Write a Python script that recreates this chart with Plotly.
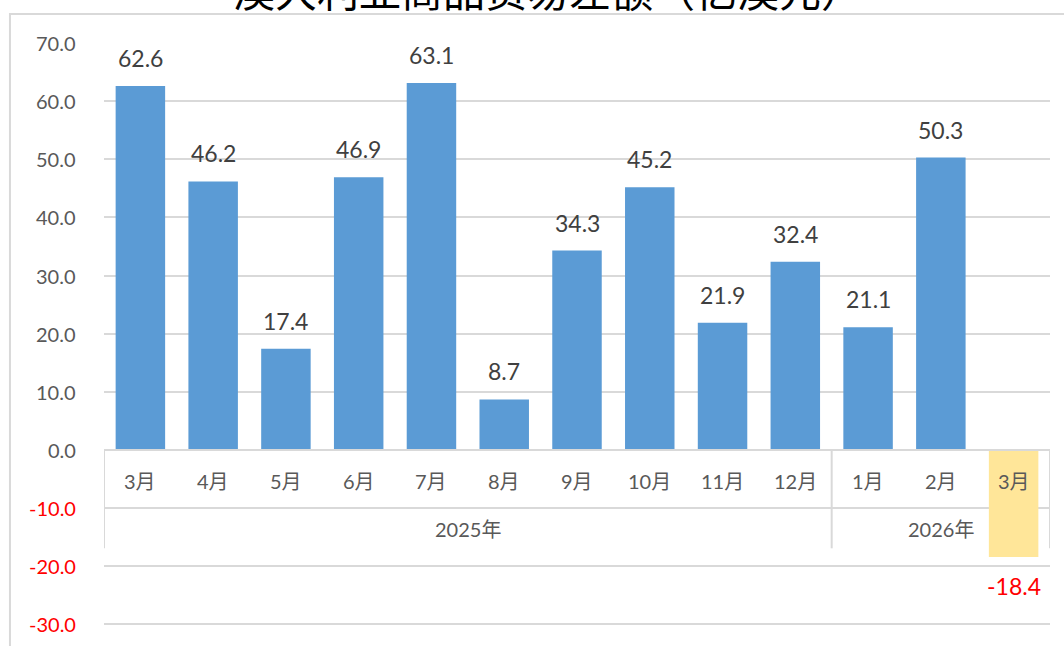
import plotly.graph_objects as go

months = ["3月", "4月", "5月", "6月", "7月", "8月", "9月", "10月", "11月", "12月", "1月", "2月", "3月"]
years = ["2025年", "2026年"]
year_counts = [10, 3]
values = [62.6, 46.2, 17.4, 46.9, 63.1, 8.7, 34.3, 45.2, 21.9, 32.4, 21.1, 50.3, -18.4]
y_ticks = [70, 60, 50, 40, 30, 20, 10, 0, -10, -20, -30]
title_text = "澳大利亚商品贸易差额（亿澳元）"

BLUE = "#5B9BD5"
YELLOW = "#FFE699"
GRID = "#D9D9D9"
FONT = "Lato, 'Noto Sans CJK SC', sans-serif"

xs = list(range(len(values)))
colors = [BLUE if v >= 0 else YELLOW for v in values]

fig = go.Figure()
fig.add_trace(go.Bar(x=xs, y=values, marker=dict(color=colors, line=dict(width=0)),
                     width=0.68, hoverinfo="skip"))

annotations = []
# data labels
for x, v in zip(xs, values):
    if v >= 0:
        annotations.append(dict(x=x, y=v, xref="x", yref="y", text=f"{v:.1f}", showarrow=False,
                                yanchor="bottom", yshift=12,
                                font=dict(family=FONT, size=23, color="#404040")))
    else:
        annotations.append(dict(x=x, y=v, xref="x", yref="y", text=f"{v:.1f}", showarrow=False,
                                yanchor="top", yshift=-13,
                                font=dict(family=FONT, size=23, color="#FF0000")))
# month labels
for x, m in zip(xs, months):
    annotations.append(dict(x=x, y=-5.4, xref="x", yref="y", text=m, showarrow=False,
                            font=dict(family=FONT, size=20, color="#595959")))
# year labels
start = 0
bounds = [-0.5]
for yname, cnt in zip(years, year_counts):
    center = start + (cnt - 1) / 2
    annotations.append(dict(x=center, y=-13.6, xref="x", yref="y", text=yname, showarrow=False,
                            font=dict(family=FONT, size=20, color="#595959")))
    start += cnt
    bounds.append(start - 0.5)

# tick labels (red for negatives)
for t in y_ticks:
    annotations.append(dict(x=0, y=t, xref="paper", yref="y", text=f"{t:.1f}", showarrow=False,
                            xanchor="right", xshift=-26,
                            font=dict(family=FONT, size=20,
                                      color="#FF0000" if t < 0 else "#595959")))

# title (cut off at top as in reference)
annotations.append(dict(x=0.5, y=1.09, xref="paper", yref="paper", text=title_text, showarrow=False,
                        xshift=-29, yanchor="middle",
                        font=dict(family="'Noto Sans CJK SC', sans-serif", size=42, color="#000000")))

shapes = []
# axis line at zero
shapes.append(dict(type="line", xref="x", yref="y", x0=-0.5, x1=len(values) - 0.5, y0=0, y1=0,
                   line=dict(color=GRID, width=2), layer="above"))
for b in bounds:
    shapes.append(dict(type="line", xref="x", yref="y", x0=b, x1=b, y0=0, y1=-16.9,
                       line=dict(color=GRID, width=2), layer="above"))
# outer chart border
shapes.append(dict(type="rect", xref="paper", yref="paper", x0=-0.0994, x1=1.03, y0=-0.1, y1=1.048,
                   line=dict(color=GRID, width=2), fillcolor="rgba(0,0,0,0)"))

fig.update_layout(
    width=1064, height=646,
    margin=dict(l=104, r=14, t=43, b=0),
    paper_bgcolor="white", plot_bgcolor="white",
    showlegend=False,
    bargap=0.32,
    xaxis=dict(range=[-0.5, len(values) - 0.5], showticklabels=False, showgrid=False,
               zeroline=False, showline=False, ticks=""),
    yaxis=dict(range=[-33.7, 70], tickvals=y_ticks, showticklabels=False, showgrid=True,
               gridcolor=GRID, gridwidth=2, zeroline=False, showline=False, ticks=""),
    annotations=annotations,
    shapes=shapes,
)

fig.write_html("out.html", config={"displayModeBar": False},
               post_script="document.body.style.margin='0';document.body.style.overflow='hidden';")
